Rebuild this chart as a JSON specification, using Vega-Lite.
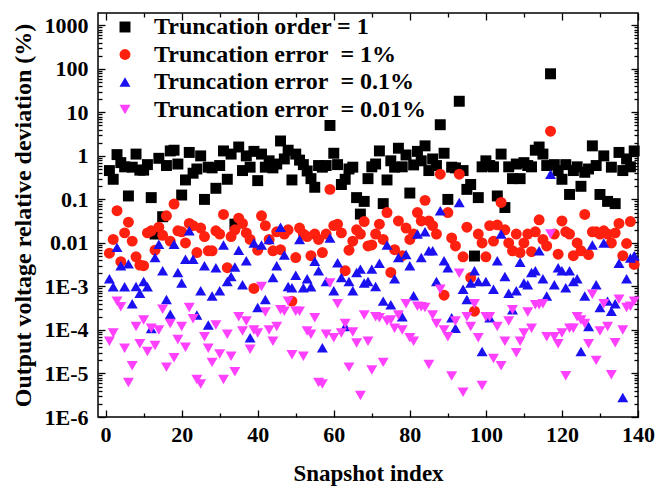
{
"$schema": "https://vega.github.io/schema/vega-lite/v6.json",
"width": 540, "height": 404,
"autosize": {"type": "none"},
"padding": {"left": 98, "top": 13, "right": 18, "bottom": 75},
"background": "white",
"config": {"view": {"stroke": "#000", "strokeWidth": 1.5}, "font": "Liberation Serif"},
"datasets": {"pts": [
{"x":1,"s":"a","y":0.46},{"x":2,"s":"a","y":0.29},{"x":3,"s":"a","y":1.07},{"x":4,"s":"a","y":0.7},{"x":5,"s":"a","y":0.56},{"x":6,"s":"a","y":0.12},{"x":7,"s":"a","y":0.55},{"x":8,"s":"a","y":1.1},{"x":9,"s":"a","y":0.47},{"x":10,"s":"a","y":0.47},
{"x":11,"s":"a","y":0.63},{"x":12,"s":"a","y":0.11},{"x":13,"s":"a","y":0.016},{"x":14,"s":"a","y":0.88},{"x":15,"s":"a","y":0.04},{"x":16,"s":"a","y":0.6},{"x":17,"s":"a","y":1.3},{"x":18,"s":"a","y":1.35},{"x":19,"s":"a","y":0.65},{"x":20,"s":"a","y":0.126},
{"x":21,"s":"a","y":0.28},{"x":22,"s":"a","y":1.2},{"x":23,"s":"a","y":0.4},{"x":24,"s":"a","y":0.5},{"x":25,"s":"a","y":1.0},{"x":26,"s":"a","y":0.1},{"x":27,"s":"a","y":0.55},{"x":28,"s":"a","y":0.53},{"x":29,"s":"a","y":0.18},{"x":30,"s":"a","y":0.6},
{"x":31,"s":"a","y":1.3},{"x":32,"s":"a","y":0.29},{"x":33,"s":"a","y":1.1},{"x":34,"s":"a","y":0.027},{"x":35,"s":"a","y":1.6},{"x":36,"s":"a","y":0.46},{"x":37,"s":"a","y":1.0},{"x":38,"s":"a","y":0.55},{"x":39,"s":"a","y":1.27},{"x":40,"s":"a","y":0.27},
{"x":41,"s":"a","y":1.1},{"x":42,"s":"a","y":0.55},{"x":43,"s":"a","y":0.77},{"x":44,"s":"a","y":0.53},{"x":45,"s":"a","y":0.65},{"x":46,"s":"a","y":2.2},{"x":47,"s":"a","y":0.85},{"x":48,"s":"a","y":1.35},{"x":49,"s":"a","y":0.28},{"x":50,"s":"a","y":1.1},
{"x":51,"s":"a","y":0.8},{"x":52,"s":"a","y":0.63},{"x":53,"s":"a","y":0.45},{"x":54,"s":"a","y":0.3},{"x":55,"s":"a","y":0.19},{"x":56,"s":"a","y":0.6},{"x":57,"s":"a","y":0.55},{"x":58,"s":"a","y":0.6},{"x":59,"s":"a","y":5.0},{"x":60,"s":"a","y":1.15},
{"x":61,"s":"a","y":0.63},{"x":62,"s":"a","y":0.22},{"x":63,"s":"a","y":0.29},{"x":64,"s":"a","y":0.5},{"x":65,"s":"a","y":0.55},{"x":66,"s":"a","y":0.11},{"x":67,"s":"a","y":0.046},{"x":68,"s":"a","y":0.09},{"x":69,"s":"a","y":0.3},{"x":70,"s":"a","y":0.56},
{"x":71,"s":"a","y":0.65},{"x":72,"s":"a","y":1.3},{"x":73,"s":"a","y":0.08},{"x":74,"s":"a","y":0.28},{"x":75,"s":"a","y":0.77},{"x":76,"s":"a","y":0.55},{"x":77,"s":"a","y":1.5},{"x":78,"s":"a","y":0.56},{"x":79,"s":"a","y":1.05},{"x":80,"s":"a","y":0.14},
{"x":81,"s":"a","y":0.62},{"x":82,"s":"a","y":1.27},{"x":83,"s":"a","y":0.77},{"x":84,"s":"a","y":1.7},{"x":85,"s":"a","y":0.46},{"x":86,"s":"a","y":0.85},{"x":87,"s":"a","y":0.6},{"x":88,"s":"a","y":5.2},{"x":89,"s":"a","y":1.15},{"x":90,"s":"a","y":0.1},
{"x":91,"s":"a","y":0.55},{"x":92,"s":"a","y":0.53},{"x":93,"s":"a","y":18},{"x":94,"s":"a","y":0.46},{"x":95,"s":"a","y":0.17},{"x":96,"s":"a","y":0.22},{"x":97,"s":"a","y":0.005},{"x":98,"s":"a","y":0.11},{"x":99,"s":"a","y":0.56},{"x":100,"s":"a","y":0.77},
{"x":101,"s":"a","y":0.6},{"x":102,"s":"a","y":0.56},{"x":103,"s":"a","y":0.12},{"x":104,"s":"a","y":1.1},{"x":105,"s":"a","y":0.065},{"x":106,"s":"a","y":0.56},{"x":107,"s":"a","y":0.3},{"x":108,"s":"a","y":0.65},{"x":109,"s":"a","y":0.3},{"x":110,"s":"a","y":0.7},
{"x":111,"s":"a","y":0.6},{"x":112,"s":"a","y":0.56},{"x":113,"s":"a","y":1.35},{"x":114,"s":"a","y":1.6},{"x":115,"s":"a","y":1.1},{"x":116,"s":"a","y":0.6},{"x":117,"s":"a","y":77},{"x":118,"s":"a","y":0.63},{"x":119,"s":"a","y":0.46},{"x":120,"s":"a","y":0.29},
{"x":121,"s":"a","y":0.63},{"x":122,"s":"a","y":0.13},{"x":123,"s":"a","y":0.46},{"x":124,"s":"a","y":0.56},{"x":125,"s":"a","y":0.2},{"x":126,"s":"a","y":0.42},{"x":127,"s":"a","y":0.5},{"x":128,"s":"a","y":1.7},{"x":129,"s":"a","y":0.6},{"x":130,"s":"a","y":0.13},
{"x":131,"s":"a","y":1.0},{"x":132,"s":"a","y":0.09},{"x":133,"s":"a","y":0.55},{"x":134,"s":"a","y":0.08},{"x":135,"s":"a","y":1.2},{"x":136,"s":"a","y":0.46},{"x":137,"s":"a","y":0.85},{"x":138,"s":"a","y":0.56},{"x":139,"s":"a","y":1.3},
{"x":1,"s":"b","y":0.0058},{"x":2,"s":"b","y":0.012},{"x":3,"s":"b","y":0.055},{"x":4,"s":"b","y":0.0037},{"x":5,"s":"b","y":0.017},{"x":6,"s":"b","y":0.03},{"x":7,"s":"b","y":0.011},{"x":8,"s":"b","y":0.0048},{"x":9,"s":"b","y":0.0031},{"x":10,"s":"b","y":0.003},
{"x":11,"s":"b","y":0.017},{"x":12,"s":"b","y":0.019},{"x":13,"s":"b","y":0.0068},{"x":14,"s":"b","y":0.023},{"x":15,"s":"b","y":0.015},{"x":16,"s":"b","y":0.042},{"x":17,"s":"b","y":0.011},{"x":18,"s":"b","y":0.078},{"x":19,"s":"b","y":0.019},{"x":20,"s":"b","y":0.018},
{"x":21,"s":"b","y":0.01},{"x":22,"s":"b","y":0.028},{"x":23,"s":"b","y":0.025},{"x":24,"s":"b","y":0.006},{"x":25,"s":"b","y":0.022},{"x":26,"s":"b","y":0.014},{"x":27,"s":"b","y":0.0066},{"x":28,"s":"b","y":0.0066},{"x":29,"s":"b","y":0.019},{"x":30,"s":"b","y":0.016},
{"x":31,"s":"b","y":0.045},{"x":32,"s":"b","y":0.0027},{"x":33,"s":"b","y":0.014},{"x":34,"s":"b","y":0.02},{"x":35,"s":"b","y":0.037},{"x":36,"s":"b","y":0.028},{"x":37,"s":"b","y":0.017},{"x":38,"s":"b","y":0.012},{"x":39,"s":"b","y":0.0009},{"x":40,"s":"b","y":0.0068},
{"x":41,"s":"b","y":0.042},{"x":42,"s":"b","y":0.025},{"x":43,"s":"b","y":0.012},{"x":44,"s":"b","y":0.0066},{"x":45,"s":"b","y":0.018},{"x":46,"s":"b","y":0.007},{"x":47,"s":"b","y":0.016},{"x":48,"s":"b","y":0.02},{"x":49,"s":"b","y":0.00046},{"x":50,"s":"b","y":0.0046},
{"x":51,"s":"b","y":0.022},{"x":52,"s":"b","y":0.016},{"x":53,"s":"b","y":0.014},{"x":54,"s":"b","y":0.0051},{"x":55,"s":"b","y":0.016},{"x":56,"s":"b","y":0.012},{"x":57,"s":"b","y":0.006},{"x":58,"s":"b","y":0.016},{"x":59,"s":"b","y":0.17},{"x":60,"s":"b","y":0.025},
{"x":61,"s":"b","y":0.027},{"x":62,"s":"b","y":0.017},{"x":63,"s":"b","y":0.0023},{"x":64,"s":"b","y":0.0068},{"x":65,"s":"b","y":0.011},{"x":66,"s":"b","y":0.02},{"x":67,"s":"b","y":0.016},{"x":68,"s":"b","y":0.031},{"x":69,"s":"b","y":0.0085},{"x":70,"s":"b","y":0.009},
{"x":71,"s":"b","y":0.016},{"x":72,"s":"b","y":0.027},{"x":73,"s":"b","y":0.012},{"x":74,"s":"b","y":0.05},{"x":75,"s":"b","y":0.0021},{"x":76,"s":"b","y":0.007},{"x":77,"s":"b","y":0.032},{"x":78,"s":"b","y":0.0051},{"x":79,"s":"b","y":0.022},{"x":80,"s":"b","y":0.012},
{"x":81,"s":"b","y":0.016},{"x":82,"s":"b","y":0.05},{"x":83,"s":"b","y":0.032},{"x":84,"s":"b","y":0.095},{"x":85,"s":"b","y":0.032},{"x":86,"s":"b","y":0.025},{"x":87,"s":"b","y":0.016},{"x":88,"s":"b","y":0.38},{"x":89,"s":"b","y":0.00063},{"x":90,"s":"b","y":0.05},
{"x":91,"s":"b","y":0.013},{"x":92,"s":"b","y":0.0085},{"x":93,"s":"b","y":0.38},{"x":94,"s":"b","y":0.0048},{"x":95,"s":"b","y":0.023},{"x":96,"s":"b","y":0.0016},{"x":97,"s":"b","y":0.00027},{"x":98,"s":"b","y":0.016},{"x":99,"s":"b","y":0.01},{"x":100,"s":"b","y":0.0048},
{"x":101,"s":"b","y":0.025},{"x":102,"s":"b","y":0.011},{"x":103,"s":"b","y":0.026},{"x":104,"s":"b","y":0.085},{"x":105,"s":"b","y":0.02},{"x":106,"s":"b","y":0.01},{"x":107,"s":"b","y":0.0066},{"x":108,"s":"b","y":0.016},{"x":109,"s":"b","y":0.006},{"x":110,"s":"b","y":0.01},
{"x":111,"s":"b","y":0.016},{"x":112,"s":"b","y":0.0063},{"x":113,"s":"b","y":0.018},{"x":114,"s":"b","y":0.034},{"x":115,"s":"b","y":0.012},{"x":116,"s":"b","y":0.0085},{"x":117,"s":"b","y":3.7},{"x":118,"s":"b","y":0.016},{"x":119,"s":"b","y":0.0055},{"x":120,"s":"b","y":0.032},
{"x":121,"s":"b","y":0.018},{"x":122,"s":"b","y":0.016},{"x":123,"s":"b","y":0.0051},{"x":124,"s":"b","y":0.01},{"x":125,"s":"b","y":0.0066},{"x":126,"s":"b","y":0.045},{"x":127,"s":"b","y":0.0054},{"x":128,"s":"b","y":0.018},{"x":129,"s":"b","y":0.018},{"x":130,"s":"b","y":0.016},
{"x":131,"s":"b","y":0.019},{"x":132,"s":"b","y":0.016},{"x":133,"s":"b","y":0.01},{"x":134,"s":"b","y":0.017},{"x":135,"s":"b","y":0.028},{"x":136,"s":"b","y":0.0051},{"x":137,"s":"b","y":0.0097},{"x":138,"s":"b","y":0.031},{"x":139,"s":"b","y":0.0032},
{"x":1,"s":"c","y":0.0015},{"x":2,"s":"c","y":0.00098},{"x":3,"s":"c","y":0.0079},{"x":4,"s":"c","y":0.003},{"x":5,"s":"c","y":0.00098},{"x":6,"s":"c","y":0.0033},{"x":7,"s":"c","y":0.0004},{"x":8,"s":"c","y":0.001},{"x":9,"s":"c","y":0.0007},{"x":10,"s":"c","y":0.0013},
{"x":11,"s":"c","y":0.00098},{"x":12,"s":"c","y":0.000108},{"x":13,"s":"c","y":0.0046},{"x":14,"s":"c","y":0.0093},{"x":15,"s":"c","y":0.0023},{"x":16,"s":"c","y":0.0005},{"x":17,"s":"c","y":0.00023},{"x":18,"s":"c","y":0.0093},{"x":19,"s":"c","y":0.0021},{"x":20,"s":"c","y":0.0012},
{"x":21,"s":"c","y":0.0042},{"x":22,"s":"c","y":0.019},{"x":23,"s":"c","y":0.0042},{"x":24,"s":"c","y":0.00022},{"x":25,"s":"c","y":0.0008},{"x":26,"s":"c","y":0.003},{"x":27,"s":"c","y":0.00013},{"x":28,"s":"c","y":0.0006},{"x":29,"s":"c","y":0.0027},{"x":30,"s":"c","y":0.0008},
{"x":31,"s":"c","y":0.009},{"x":32,"s":"c","y":0.0013},{"x":33,"s":"c","y":0.0017},{"x":34,"s":"c","y":0.0028},{"x":35,"s":"c","y":0.0068},{"x":36,"s":"c","y":0.0011},{"x":37,"s":"c","y":0.0039},{"x":38,"s":"c","y":0.000066},{"x":39,"s":"c","y":0.01},{"x":40,"s":"c","y":0.00033},
{"x":41,"s":"c","y":0.009},{"x":42,"s":"c","y":0.0005},{"x":43,"s":"c","y":0.012},{"x":44,"s":"c","y":0.0016},{"x":45,"s":"c","y":0.003},{"x":46,"s":"c","y":0.023},{"x":47,"s":"c","y":0.0053},{"x":48,"s":"c","y":0.001},{"x":49,"s":"c","y":0.00093},{"x":50,"s":"c","y":0.0018},
{"x":51,"s":"c","y":0.012},{"x":52,"s":"c","y":0.00093},{"x":53,"s":"c","y":0.0015},{"x":54,"s":"c","y":0.00098},{"x":55,"s":"c","y":0.0038},{"x":56,"s":"c","y":0.0023},{"x":57,"s":"c","y":0.000039},{"x":58,"s":"c","y":0.0013},{"x":59,"s":"c","y":0.013},{"x":60,"s":"c","y":0.0008},
{"x":61,"s":"c","y":0.0035},{"x":62,"s":"c","y":0.0016},{"x":63,"s":"c","y":0.00012},{"x":64,"s":"c","y":0.0013},{"x":65,"s":"c","y":0.0008},{"x":66,"s":"c","y":0.0021},{"x":67,"s":"c","y":0.0025},{"x":68,"s":"c","y":0.0012},{"x":69,"s":"c","y":0.0013},{"x":70,"s":"c","y":0.0025},
{"x":71,"s":"c","y":0.001},{"x":72,"s":"c","y":0.0034},{"x":73,"s":"c","y":0.00046},{"x":74,"s":"c","y":0.009},{"x":75,"s":"c","y":0.00038},{"x":76,"s":"c","y":0.0015},{"x":77,"s":"c","y":0.0046},{"x":78,"s":"c","y":0.0002},{"x":79,"s":"c","y":0.0054},{"x":80,"s":"c","y":0.003},
{"x":81,"s":"c","y":0.00061},{"x":82,"s":"c","y":0.016},{"x":83,"s":"c","y":0.0046},{"x":84,"s":"c","y":0.018},{"x":85,"s":"c","y":0.0066},{"x":86,"s":"c","y":0.0066},{"x":87,"s":"c","y":0.0013},{"x":88,"s":"c","y":0.055},{"x":89,"s":"c","y":0.0039},{"x":90,"s":"c","y":0.0027},
{"x":91,"s":"c","y":0.00019},{"x":92,"s":"c","y":0.00011},{"x":93,"s":"c","y":0.085},{"x":94,"s":"c","y":0.00086},{"x":95,"s":"c","y":0.0005},{"x":96,"s":"c","y":0.0012},{"x":97,"s":"c","y":0.0023},{"x":98,"s":"c","y":0.0013},{"x":99,"s":"c","y":0.000032},{"x":100,"s":"c","y":0.0013},
{"x":101,"s":"c","y":0.00019},{"x":102,"s":"c","y":0.00086},{"x":103,"s":"c","y":0.0039},{"x":104,"s":"c","y":0.016},{"x":105,"s":"c","y":0.0017},{"x":106,"s":"c","y":0.0007},{"x":107,"s":"c","y":0.00029},{"x":108,"s":"c","y":0.0008},{"x":109,"s":"c","y":0.0036},{"x":110,"s":"c","y":0.0012},
{"x":111,"s":"c","y":0.0011},{"x":112,"s":"c","y":0.0021},{"x":113,"s":"c","y":0.0023},{"x":114,"s":"c","y":0.0066},{"x":115,"s":"c","y":0.0015},{"x":116,"s":"c","y":0.0006},{"x":117,"s":"c","y":0.38},{"x":118,"s":"c","y":0.0011},{"x":119,"s":"c","y":0.0027},{"x":120,"s":"c","y":0.0023},
{"x":121,"s":"c","y":0.00093},{"x":122,"s":"c","y":0.0023},{"x":123,"s":"c","y":0.0013},{"x":124,"s":"c","y":0.0015},{"x":125,"s":"c","y":0.000032},{"x":126,"s":"c","y":0.0006},{"x":127,"s":"c","y":0.00012},{"x":128,"s":"c","y":0.009},{"x":129,"s":"c","y":0.0011},{"x":130,"s":"c","y":0.00033},
{"x":131,"s":"c","y":0.01},{"x":132,"s":"c","y":0.00046},{"x":133,"s":"c","y":0.00027},{"x":134,"s":"c","y":0.0004},{"x":135,"s":"c","y":0.0034},{"x":136,"s":"c","y":0.0000028},{"x":137,"s":"c","y":0.0015},{"x":138,"s":"c","y":0.0045},{"x":139,"s":"c","y":0.0051},
{"x":1,"s":"d","y":0.000055},{"x":2,"s":"d","y":0.000085},{"x":3,"s":"d","y":0.00046},{"x":4,"s":"d","y":0.00034},{"x":5,"s":"d","y":0.000038},{"x":6,"s":"d","y":0.0000062},{"x":7,"s":"d","y":0.000015},{"x":8,"s":"d","y":0.00012},{"x":9,"s":"d","y":0.000048},{"x":10,"s":"d","y":0.00017},
{"x":11,"s":"d","y":0.000032},{"x":12,"s":"d","y":0.00011},{"x":13,"s":"d","y":0.000044},{"x":14,"s":"d","y":0.0001},{"x":15,"s":"d","y":0.0003},{"x":16,"s":"d","y":0.000014},{"x":17,"s":"d","y":0.00014},{"x":18,"s":"d","y":0.000023},{"x":19,"s":"d","y":0.00006},{"x":20,"s":"d","y":0.00012},
{"x":21,"s":"d","y":0.00004},{"x":22,"s":"d","y":0.00033},{"x":23,"s":"d","y":0.00018},{"x":24,"s":"d","y":0.0000073},{"x":25,"s":"d","y":0.0000057},{"x":26,"s":"d","y":0.00007},{"x":27,"s":"d","y":0.000038},{"x":28,"s":"d","y":0.000018},{"x":29,"s":"d","y":0.00013},{"x":30,"s":"d","y":0.000028},
{"x":31,"s":"d","y":0.0000073},{"x":32,"s":"d","y":0.00008},{"x":33,"s":"d","y":0.000025},{"x":34,"s":"d","y":0.000011},{"x":35,"s":"d","y":0.0002},{"x":36,"s":"d","y":0.000095},{"x":37,"s":"d","y":0.00016},{"x":38,"s":"d","y":0.000036},{"x":39,"s":"d","y":0.0001},{"x":40,"s":"d","y":0.000085},
{"x":41,"s":"d","y":0.001},{"x":42,"s":"d","y":0.00026},{"x":43,"s":"d","y":0.0001},{"x":44,"s":"d","y":0.000055},{"x":45,"s":"d","y":0.00012},{"x":46,"s":"d","y":0.00029},{"x":47,"s":"d","y":0.00027},{"x":48,"s":"d","y":0.00046},{"x":49,"s":"d","y":0.000027},{"x":50,"s":"d","y":0.00027},
{"x":51,"s":"d","y":0.00027},{"x":52,"s":"d","y":0.000025},{"x":53,"s":"d","y":0.000095},{"x":54,"s":"d","y":0.00008},{"x":55,"s":"d","y":0.00019},{"x":56,"s":"d","y":0.0000062},{"x":57,"s":"d","y":0.0000057},{"x":58,"s":"d","y":0.00008},{"x":59,"s":"d","y":0.0012},{"x":60,"s":"d","y":0.000066},
{"x":61,"s":"d","y":0.0004},{"x":62,"s":"d","y":0.000085},{"x":63,"s":"d","y":0.00014},{"x":64,"s":"d","y":0.000014},{"x":65,"s":"d","y":0.00009},{"x":66,"s":"d","y":0.00005},{"x":67,"s":"d","y":0.0000031},{"x":68,"s":"d","y":0.00022},{"x":69,"s":"d","y":0.000055},{"x":70,"s":"d","y":0.000012},
{"x":71,"s":"d","y":0.0002},{"x":72,"s":"d","y":0.00019},{"x":73,"s":"d","y":0.000018},{"x":74,"s":"d","y":0.00016},{"x":75,"s":"d","y":0.00017},{"x":76,"s":"d","y":0.00011},{"x":77,"s":"d","y":0.00022},{"x":78,"s":"d","y":0.0001},{"x":79,"s":"d","y":0.0004},{"x":80,"s":"d","y":0.000066},
{"x":81,"s":"d","y":0.000055},{"x":82,"s":"d","y":0.00035},{"x":83,"s":"d","y":0.00034},{"x":84,"s":"d","y":0.00033},{"x":85,"s":"d","y":0.000016},{"x":86,"s":"d","y":0.00022},{"x":87,"s":"d","y":0.00014},{"x":88,"s":"d","y":0.00086},{"x":89,"s":"d","y":0.0001},{"x":90,"s":"d","y":0.00007},
{"x":91,"s":"d","y":0.0000087},{"x":92,"s":"d","y":0.00016},{"x":93,"s":"d","y":0.002},{"x":94,"s":"d","y":0.0000037},{"x":95,"s":"d","y":0.0002},{"x":96,"s":"d","y":0.00012},{"x":97,"s":"d","y":0.0004},{"x":98,"s":"d","y":0.000066},{"x":99,"s":"d","y":0.0000053},{"x":100,"s":"d","y":0.0002},
{"x":101,"s":"d","y":0.0002},{"x":102,"s":"d","y":0.000022},{"x":103,"s":"d","y":0.00012},{"x":104,"s":"d","y":0.000015},{"x":105,"s":"d","y":0.000055},{"x":106,"s":"d","y":0.00016},{"x":107,"s":"d","y":0.00029},{"x":108,"s":"d","y":0.00003},{"x":109,"s":"d","y":0.000055},{"x":110,"s":"d","y":0.000085},
{"x":111,"s":"d","y":0.00026},{"x":112,"s":"d","y":0.00011},{"x":113,"s":"d","y":0.00038},{"x":114,"s":"d","y":0.00038},{"x":115,"s":"d","y":0.0004},{"x":116,"s":"d","y":0.00007},{"x":117,"s":"d","y":0.016},{"x":118,"s":"d","y":0.00007},{"x":119,"s":"d","y":0.000048},{"x":120,"s":"d","y":0.000085},
{"x":121,"s":"d","y":0.0000089},{"x":122,"s":"d","y":0.00011},{"x":123,"s":"d","y":0.00011},{"x":124,"s":"d","y":0.0002},{"x":125,"s":"d","y":0.00017},{"x":126,"s":"d","y":0.00014},{"x":127,"s":"d","y":0.000048},{"x":128,"s":"d","y":0.00066},{"x":129,"s":"d","y":0.00002},{"x":130,"s":"d","y":0.000095},
{"x":131,"s":"d","y":0.0004},{"x":132,"s":"d","y":0.00012},{"x":133,"s":"d","y":0.0000094},{"x":134,"s":"d","y":0.000051},{"x":135,"s":"d","y":0.00051},{"x":136,"s":"d","y":0.0001},{"x":137,"s":"d","y":0.00033},{"x":138,"s":"d","y":0.00035},{"x":139,"s":"d","y":0.00046}
]},
"data": {"name": "pts"},
"layer": [
{
"mark": {"type": "point", "filled": true, "opacity": 1, "size": 120, "strokeWidth": 0},
"encoding": {
"x": {"field": "x", "type": "quantitative",
"scale": {"domain": [-2, 140], "nice": false, "zero": false},
"axis": {"orient": "bottom", "values": [0,10,20,30,40,50,60,70,80,90,100,110,120,130,140],
"labelExpr": "datum.value % 20 === 0 ? datum.label : ''",
"tickSize": {"condition": {"test": "datum.value % 20 === 0", "value": -7}, "value": -4},
"tickColor": "#000", "tickWidth": 1.3, "domain": false, "grid": false,
"labelFont": "Liberation Serif", "labelFontWeight": "bold", "labelFontSize": 22, "labelColor": "#000", "labelPadding": 14, "labelOverlap": false, "labelFlush": false,
"title": "Snapshot index", "titleFont": "Liberation Serif", "titleFontWeight": "bold", "titleFontSize": 23, "titleColor": "#000", "titlePadding": 14}},
"y": {"field": "y", "type": "quantitative",
"scale": {"type": "log", "domain": [0.000001, 1920], "nice": false},
"axis": {"orient": "left",
"values": [0.000001,0.000002,0.000003,0.000004,0.000005,0.000006,0.000007,0.000008,0.000009,0.00001,0.00002,0.00003,0.00004,0.00005,0.00006,0.00007,0.00008,0.00009,0.0001,0.0002,0.0003,0.0004,0.0005,0.0006,0.0007,0.0008,0.0009,0.001,0.002,0.003,0.004,0.005,0.006,0.007,0.008,0.009,0.01,0.02,0.03,0.04,0.05,0.06,0.07,0.08,0.09,0.1,0.2,0.3,0.4,0.5,0.6,0.7,0.8,0.9,1,2,3,4,5,6,7,8,9,10,20,30,40,50,60,70,80,90,100,200,300,400,500,600,700,800,900,1000],
"labelExpr": "abs(log(datum.value)/LN10 - round(log(datum.value)/LN10)) > 0.001 ? '' : (datum.value < 0.005 ? '1E' + round(log(datum.value)/LN10) : format(datum.value, '~g'))",
"tickSize": {"condition": {"test": "abs(log(datum.value)/LN10 - round(log(datum.value)/LN10)) < 0.001", "value": -7}, "value": -4},
"tickColor": "#000", "tickWidth": 1.3, "domain": false, "grid": false,
"labelFont": "Liberation Serif", "labelFontWeight": "bold", "labelFontSize": 22, "labelColor": "#000", "labelPadding": 17, "labelOverlap": false, "labelFlush": false,
"title": "Output voltage relative deviation (%)", "titleFont": "Liberation Serif", "titleFontWeight": "bold", "titleFontSize": 24, "titleColor": "#000", "titlePadding": 9}},
"color": {"field": "s", "type": "nominal",
"scale": {"domain": ["a","b","c","d"], "range": ["#000000","#FF2010","#1A10F0","#FF40FF"]},
"legend": {"orient": "none", "legendX": 15, "legendY": 2, "title": null, "padding": 0,
"labelFont": "Liberation Serif", "labelFontWeight": "bold", "labelFontSize": 24, "labelColor": "#000", "labelLimit": 600,
"symbolSize": 120, "symbolStrokeWidth": 0, "labelOffset": 17, "rowPadding": 3.5,
"labelExpr": "datum.value === 'a' ? 'Truncation order = 1' : datum.value === 'b' ? 'Truncation error\u00a0 = 1%' : datum.value === 'c' ? 'Truncation error\u00a0 = 0.1%' : 'Truncation error\u00a0 = 0.01%'"}},
"shape": {"field": "s", "type": "nominal",
"scale": {"domain": ["a","b","c","d"], "range": ["square","circle","triangle-up","triangle-down"]},
"legend": {"orient": "none", "legendX": 15, "legendY": 2, "title": null, "padding": 0,
"labelFont": "Liberation Serif", "labelFontWeight": "bold", "labelFontSize": 24, "labelColor": "#000", "labelLimit": 600,
"symbolSize": 120, "symbolStrokeWidth": 0, "labelOffset": 17, "rowPadding": 3.5,
"labelExpr": "datum.value === 'a' ? 'Truncation order = 1' : datum.value === 'b' ? 'Truncation error\u00a0 = 1%' : datum.value === 'c' ? 'Truncation error\u00a0 = 0.1%' : 'Truncation error\u00a0 = 0.01%'"}}
}
},
{
"mark": {"type": "point", "opacity": 0},
"encoding": {
"x": {"field": "x", "type": "quantitative",
"scale": {"domain": [-2, 140], "nice": false, "zero": false},
"axis": {"orient": "top", "values": [0,10,20,30,40,50,60,70,80,90,100,110,120,130,140], "labels": false, "title": null, "domain": false, "grid": false,
"tickSize": {"condition": {"test": "datum.value % 20 === 0", "value": -7}, "value": -4}, "tickColor": "#000", "tickWidth": 1.3}},
"y": {"field": "y", "type": "quantitative",
"scale": {"type": "log", "domain": [0.000001, 1920], "nice": false},
"axis": {"orient": "right", "labels": false, "title": null, "domain": false, "grid": false,
"values": [0.000001,0.000002,0.000003,0.000004,0.000005,0.000006,0.000007,0.000008,0.000009,0.00001,0.00002,0.00003,0.00004,0.00005,0.00006,0.00007,0.00008,0.00009,0.0001,0.0002,0.0003,0.0004,0.0005,0.0006,0.0007,0.0008,0.0009,0.001,0.002,0.003,0.004,0.005,0.006,0.007,0.008,0.009,0.01,0.02,0.03,0.04,0.05,0.06,0.07,0.08,0.09,0.1,0.2,0.3,0.4,0.5,0.6,0.7,0.8,0.9,1,2,3,4,5,6,7,8,9,10,20,30,40,50,60,70,80,90,100,200,300,400,500,600,700,800,900,1000],
"tickSize": {"condition": {"test": "abs(log(datum.value)/LN10 - round(log(datum.value)/LN10)) < 0.001", "value": -7}, "value": -4}, "tickColor": "#000", "tickWidth": 1.3}}
}
}
],
"resolve": {"axis": {"x": "independent", "y": "independent"}}
}
